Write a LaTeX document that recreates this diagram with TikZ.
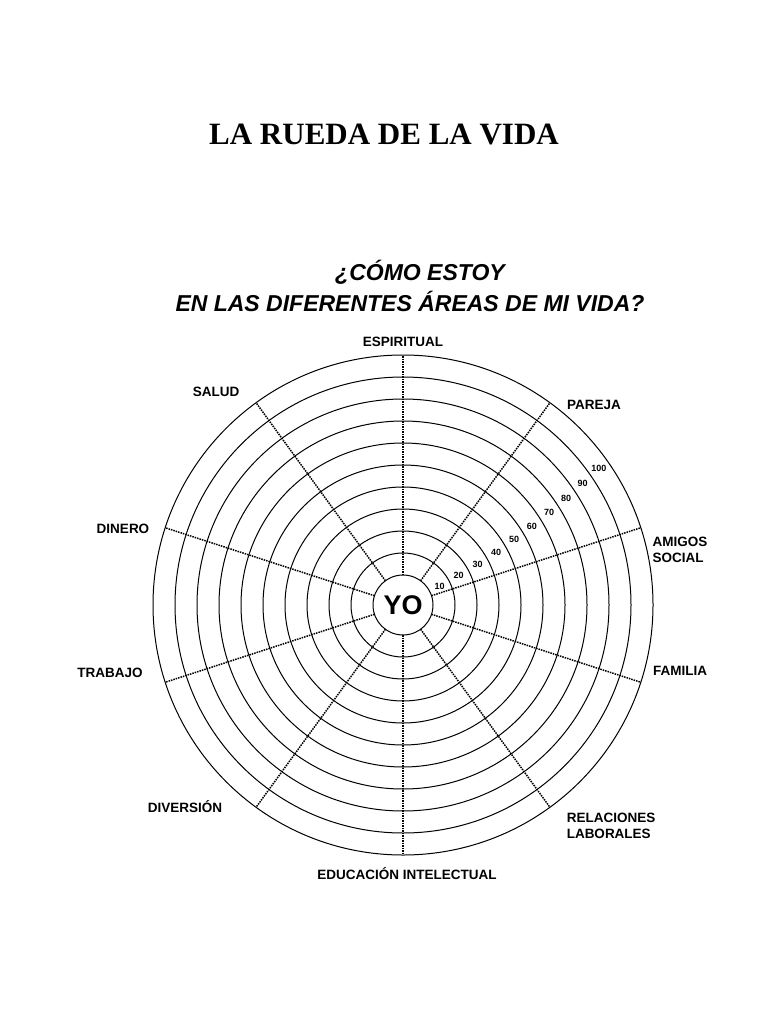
\documentclass[tikz,border=0pt]{standalone}
\usepackage{fontspec}
\setmainfont{Liberation Serif}
\newfontfamily\lsans{Liberation Sans}
\begin{document}
\begin{tikzpicture}[x=1pt,y=-1pt,
  lbl/.style={font=\lsans\bfseries\fontsize{13.5}{16}\selectfont,align=left,inner sep=1pt},
  num/.style={font=\lsans\bfseries\fontsize{9}{10}\selectfont,inner sep=0pt},
  spoke/.style={densely dotted,line width=1.5pt}]
\useasboundingbox[fill=white] (0,0) rectangle (768,1024);
\node (title) at (384,135) {\fontsize{31}{36}\selectfont\bfseries LA RUEDA DE LA VIDA};
\node (sub1) at (420,272) {\lsans\bfseries\itshape\fontsize{23}{26}\selectfont ¿CÓMO ESTOY};
\node (sub2) at (410,301) {\lsans\bfseries\itshape\fontsize{23}{26}\selectfont EN LAS DIFERENTES ÁREAS DE MI VIDA?};
\coordinate (c) at (403,605);
\foreach \a in {90,54,18,-18,-54,-90,-126,-162,162,126}
  \draw[spoke] (c) ++(\a:-30) -- ++(\a:-220);
\foreach \r in {30,52,74,96,118,140,162,184,206,228,250}
  \draw[line width=1pt] (c) circle[radius=\r];
\node[font=\lsans\bfseries\fontsize{27}{30}\selectfont] (yo) at (c) {YO};
\foreach \i in {1,...,10}
  \path (c) ++({-(26+\i*0.9)}:{41+(\i-1)*22}) node[num,fill=white] {\the\numexpr\i*10\relax};
\node[lbl] (esp) at (403,342) {ESPIRITUAL};
\node[lbl] (par) at (594,405) {PAREJA};
\node[lbl] (ami) at (680,550) {AMIGOS\\SOCIAL};
\node[lbl] (fam) at (680,671) {FAMILIA};
\node[lbl] (rel) at (611,826) {RELACIONES\\LABORALES};
\node[lbl] (edu) at (407,874) {EDUCACIÓN INTELECTUAL};
\node[lbl] (div) at (185,807) {DIVERSIÓN};
\node[lbl] (tra) at (110,673) {TRABAJO};
\node[lbl] (din) at (123,529) {DINERO};
\node[lbl] (sal) at (216,392) {SALUD};
\end{tikzpicture}
\end{document}
